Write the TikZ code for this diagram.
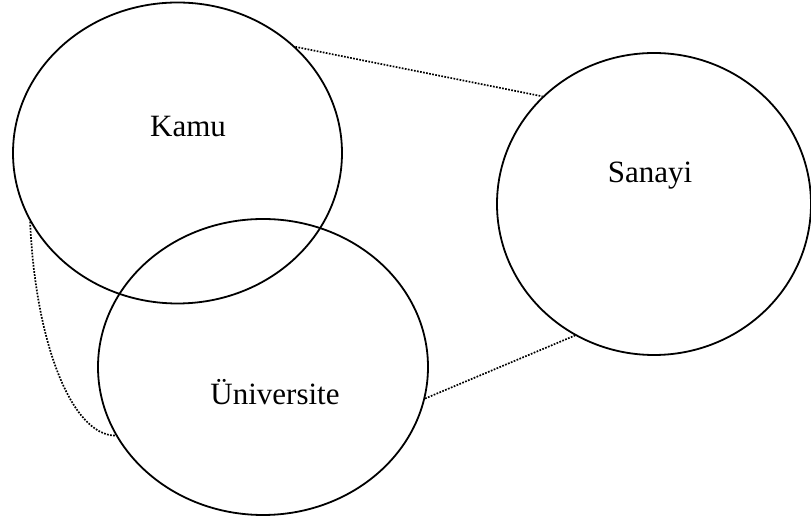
\documentclass[tikz,border=0pt]{standalone}
\usepackage{fontspec}
\setmainfont{Liberation Serif}
\usetikzlibrary{shapes.geometric,positioning,calc}
\tikzset{sector/.style={shape=ellipse,draw,line width=0.9pt,inner sep=0pt},
  tie/.style={line width=0.85pt,dash pattern=on 0.85pt off 0.7pt},
  caption/.style={font=\fontsize{15.5}{18}\selectfont}}

\begin{document}
\begin{tikzpicture}[x=0.5pt,y=-0.5pt]
    \useasboundingbox (0,0) rectangle (811,523);
    % create the nodes
    \node (kamu)[sector, minimum width=164.5pt, minimum height=150.5pt] at (177.5,153) {};
    \node (uni)[sector, minimum width=165pt, minimum height=148pt] at (263,367) {};
    \node (sanayi)[sector, minimum width=157pt, minimum height=151pt] at (654,204) {};
    \node (kamutext)[caption] at (188,127) {Kamu};
    \node (unitext)[caption] at (275,392) {Üniversite};
    \node (sanayitext)[caption] at (650,176) {Sanayi};

    % connect the nodes
    \draw[tie] (kamu.42.1) -- (sanayi.136.1);
    \draw[tie] (uni.-11) -- (sanayi.239.1);
    \draw[tie] (kamu.205.8) .. controls +(5,118) and +(-45,0) .. (uni.205.3);
\end{tikzpicture}
\end{document}
